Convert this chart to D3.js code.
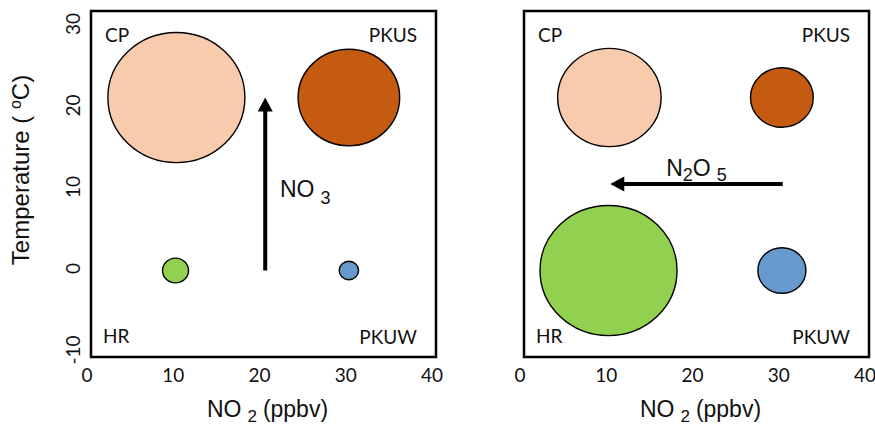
<!DOCTYPE html>
<html><head><meta charset="utf-8">
<script src="https://cdn.jsdelivr.net/npm/d3@7"></script>
<style>body{margin:0;background:#fff}svg{display:block}</style>
</head><body>
<svg id="chart" width="875" height="426"></svg>
<script>
// Sites and their typical conditions
const sites = ["CP", "PKUS", "HR", "PKUW"];
const siteNO2 = [9.9, 29.9, 9.8, 29.9];      // ppbv
const siteTemp = [20, 20, 0, 0];              // °C
const siteColors = ["#F8CBAD", "#C55A11", "#92D050", "#6699CC"];

// Relative production levels per panel (bubble area)
const no3Level = [100, 55, 3.6, 2.0];
const n2o5Level = [57, 21, 100, 12.3];

// Trend arrows: [NO2, T] start and end
const no3ArrowFrom = [20.2, 0], no3ArrowTo = [20.2, 20];
const n2o5ArrowFrom = [30, 10], n2o5ArrowTo = [10, 10];

const xTicks = [0, 10, 20, 30, 40];
const yTicks = [-10, 0, 10, 20, 30];

const svg = d3.select("#chart");
const plotTop = 11, plotBottom = 357;
const panelsLeft = [91, 524], panelW = 345;

const y = d3.scaleLinear().domain([-10, 30]).range([plotBottom, plotTop]);
const yLabelPos = d3.scaleLinear().domain([-10, 30]).range([350, 24]);
const rScale = d3.scaleSqrt().domain([0, 100]).range([0, 68.5]);
const aspect = 0.95;

const arial = "'Liberation Sans', Arial, sans-serif";
const body = "Lato, 'Open Sans', sans-serif";

const panels = [
  {levels: no3Level, from: no3ArrowFrom, to: no3ArrowTo, species: ["NO", "3"], labelAt: [21.9, 8.5], anchor: "start", subs: "trail"},
  {levels: n2o5Level, from: n2o5ArrowFrom, to: n2o5ArrowTo, species: ["N", "2", "O", "5"], labelAt: [20, 10.9], anchor: "middle", subs: "mixed"}
];

panels.forEach((p, pi) => {
  const x0 = panelsLeft[pi];
  const x = d3.scaleLinear().domain([0, 40]).range([x0, x0 + panelW]);
  const g = svg.append("g");

  // bubbles
  g.selectAll("ellipse").data(sites).join("ellipse")
    .attr("cx", (d, i) => x(siteNO2[i]))
    .attr("cy", (d, i) => y(siteTemp[i]))
    .attr("rx", (d, i) => rScale(p.levels[i]))
    .attr("ry", (d, i) => rScale(p.levels[i]) * aspect)
    .attr("fill", (d, i) => siteColors[i])
    .attr("stroke", "#000").attr("stroke-width", 1.4);

  // frame
  g.append("rect").attr("x", x0).attr("y", plotTop)
    .attr("width", panelW).attr("height", plotBottom - plotTop)
    .attr("fill", "none").attr("stroke", "#000").attr("stroke-width", 2.5);

  // corner site labels
  const corner = [
    {t: "CP", x: x0 + 14, y: plotTop + 31, a: "start"},
    {t: "PKUS", x: x0 + panelW - 19, y: plotTop + 31, a: "end"},
    {t: "HR", x: x0 + 12, y: plotBottom - 14, a: "start"},
    {t: "PKUW", x: x0 + panelW - 19, y: plotBottom - 13, a: "end"}
  ];
  g.selectAll("text.site").data(corner).join("text").attr("class", "site")
    .attr("x", d => d.x).attr("y", d => d.y)
    .attr("text-anchor", d => d.a)
    .style("font-family", body).style("font-size", "19px").attr("fill", "#111")
    .text(d => d.t);

  // arrow
  const x1 = x(p.from[0]), y1 = y(p.from[1]), x2 = x(p.to[0]), y2 = y(p.to[1]);
  const len = Math.hypot(x2 - x1, y2 - y1), ux = (x2 - x1) / len, uy = (y2 - y1) / len;
  const head = 14, half = 7.5;
  g.append("line").attr("x1", x1).attr("y1", y1)
    .attr("x2", x2 - ux * (head - 2)).attr("y2", y2 - uy * (head - 2))
    .attr("stroke", "#000").attr("stroke-width", 4);
  const bx = x2 - ux * head, by = y2 - uy * head;
  g.append("path")
    .attr("d", `M${x2},${y2}L${bx - uy * half},${by + ux * half}L${bx + uy * half},${by - ux * half}Z`)
    .attr("fill", "#000");

  // species label
  const lab = g.append("text")
    .attr("x", x(p.labelAt[0])).attr("y", y(p.labelAt[1]))
    .attr("text-anchor", p.anchor)
    .style("font-family", arial).style("font-size", "23px").attr("fill", "#111");
  if (p.subs === "trail") {
    lab.append("tspan").text(p.species[0]);
    lab.append("tspan").attr("dx", 6).attr("dy", 7).style("font-size", "18px").text(p.species[1]);
  } else {
    lab.append("tspan").text(p.species[0]);
    lab.append("tspan").attr("dy", 5).style("font-size", "18px").text(p.species[1]);
    lab.append("tspan").attr("dy", -5).text(p.species[2]);
    lab.append("tspan").attr("dx", 6).attr("dy", 5).style("font-size", "18px").text(p.species[3]);
  }

  // x tick labels
  g.selectAll("text.xt").data(xTicks).join("text").attr("class", "xt")
    .attr("x", d => x(d) - 4).attr("y", 382)
    .attr("text-anchor", "middle")
    .style("font-family", body).style("font-size", "19px").attr("fill", "#111")
    .text(d => d);

  // x title
  const xt = g.append("text")
    .attr("x", x0 + panelW / 2 + 4).attr("y", 417)
    .attr("text-anchor", "middle")
    .style("font-family", arial).style("font-size", "23px").attr("fill", "#111");
  xt.append("tspan").text("NO");
  xt.append("tspan").attr("dx", 6).attr("dy", 5).style("font-size", "17px").text("2");
  xt.append("tspan").attr("dx", 6).attr("dy", -5).text("(ppbv)");
});

// y tick labels (rotated)
svg.selectAll("text.yt").data(yTicks).join("text").attr("class", "yt")
  .attr("transform", d => `translate(80,${yLabelPos(d)}) rotate(-90)`)
  .attr("text-anchor", "middle")
  .style("font-family", body).style("font-size", "19px").attr("fill", "#111")
  .text(d => d);

// y title
const yt = svg.append("text")
  .attr("transform", "translate(29,170) rotate(-90)")
  .attr("text-anchor", "middle")
  .style("font-family", arial).style("font-size", "24px").attr("fill", "#111");
yt.append("tspan").text("Temperature ( ");
yt.append("tspan").attr("dy", -8).style("font-size", "16px").text("o");
yt.append("tspan").attr("dy", 8).text("C)");
</script>
</body></html>
